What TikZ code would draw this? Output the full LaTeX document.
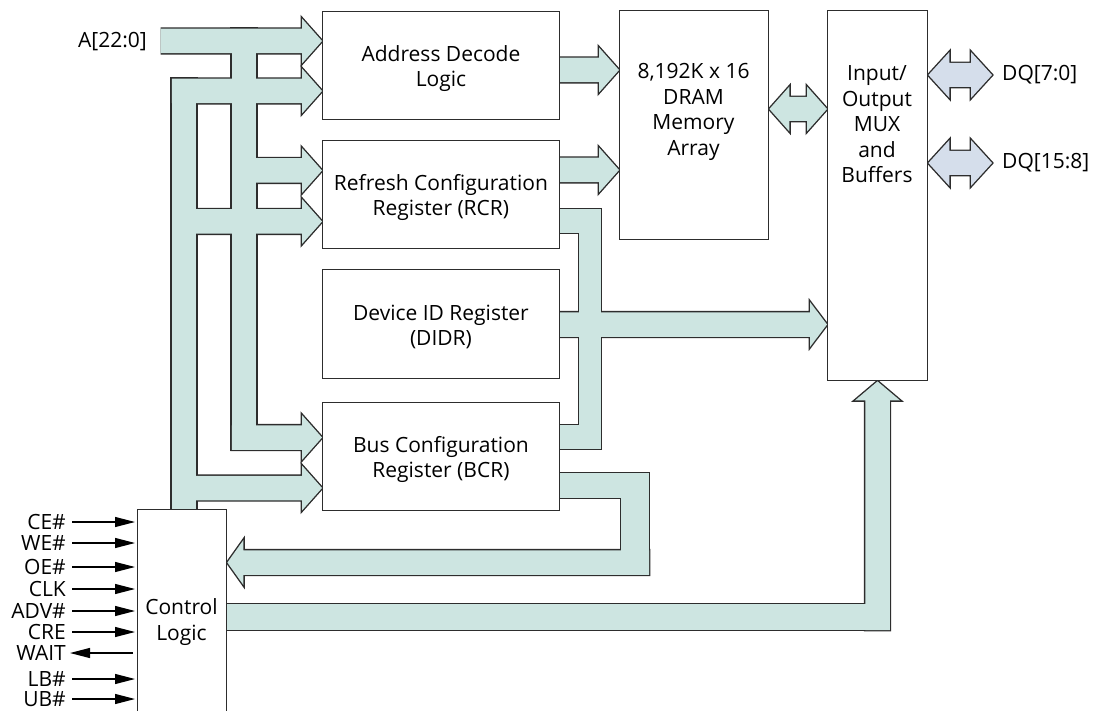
\documentclass[tikz,border=0pt]{standalone}
\usepackage{fontspec}
\setmainfont{Open Sans}
\usetikzlibrary{calc,arrows.meta}
\pgfdeclarelayer{bg}
\pgfsetlayers{bg,main}
\definecolor{busfill}{RGB}{205,229,225}
\definecolor{dqfill}{RGB}{213,222,235}
\definecolor{edgec}{RGB}{45,45,45}
\def\bsw{12.25}
\def\bhw{22.5}
% right-pointing bus arrow: start x, centre y, target anchor, head length
\newcommand\rarrow[4]{(#1,#2-\bsw) -- ($(#3 |- 0,#2)+(-#4,-\bsw)$) -- ($(#3 |- 0,#2)+(-#4,-\bhw)$) -- (#3 |- 0,#2) -- ($(#3 |- 0,#2)+(-#4,\bhw)$) -- ($(#3 |- 0,#2)+(-#4,\bsw)$) -- (#1,#2+\bsw) -- cycle}
% left-pointing bus arrow
\newcommand\larrow[4]{(#1,#2-\bsw) -- ($(#3 |- 0,#2)+(#4,-\bsw)$) -- ($(#3 |- 0,#2)+(#4,-\bhw)$) -- (#3 |- 0,#2) -- ($(#3 |- 0,#2)+(#4,\bhw)$) -- ($(#3 |- 0,#2)+(#4,\bsw)$) -- (#1,#2+\bsw) -- cycle}
% up-pointing bus arrow: bottom y, centre x, target anchor, head length
\newcommand\uarrow[4]{(#2-\bsw,#1) -- ($(#3 -| #2,0)+(-\bsw,#4)$) -- ($(#3 -| #2,0)+(-\bhw,#4)$) -- (#3 -| #2,0) -- ($(#3 -| #2,0)+(\bhw,#4)$) -- ($(#3 -| #2,0)+(\bsw,#4)$) -- (#2+\bsw,#1) -- cycle}
% double arrow: left anchor, right anchor, y, head length, shaft half, head half
\newcommand\darrow[6]{(#1 |- 0,#3) -- ($(#1 |- 0,#3)+(#4,-#6)$) -- ($(#1 |- 0,#3)+(#4,-#5)$) -- ($(#2 |- 0,#3)+(-#4,-#5)$) -- ($(#2 |- 0,#3)+(-#4,-#6)$) -- (#2 |- 0,#3) -- ($(#2 |- 0,#3)+(-#4,#6)$) -- ($(#2 |- 0,#3)+(-#4,#5)$) -- ($(#1 |- 0,#3)+(#4,#5)$) -- ($(#1 |- 0,#3)+(#4,#6)$) -- cycle}
\newcommand\busshapes[2]{%
  \path[#1] \rarrow{#2}{41}{adl.west}{20};
  \path[#1] (231.75,28.75) rectangle (256.25,449.75);
  \path[#1] \rarrow{244}{170.5}{rcr.west}{20};
  \path[#1] \rarrow{231.75}{437.5}{bcr.west}{20};
  \path[#1] (171.75,78.75) rectangle (196.25,520);
  \path[#1] \rarrow{171.75}{91}{adl.west}{20};
  \path[#1] \rarrow{184}{221.5}{rcr.west}{20};
  \path[#1] \rarrow{184}{488}{bcr.west}{20};
  \path[#1] \rarrow{550}{70}{dram.west}{20};
  \path[#1] \rarrow{550}{170}{dram.west}{20};
  \path[#1] \darrow{dram.east}{io.west}{109}{20}{12}{22.5};
  \path[#1] (550,209) rectangle (600.5,233);
  \path[#1] (579,209) rectangle (600.5,449);
  \path[#1] \rarrow{550}{324.5}{io.west}{17};
  \path[#1] (550,425) rectangle (600.5,449);
  \path[#1] (550,473) rectangle (649,498);
  \path[#1] (621,473) rectangle (649,574.75);
  \path[#1] \larrow{649}{562.5}{cl.east}{16};
  \path[#1] (220,604) rectangle (889.75,630);
  \path[#1] \uarrow{630}{877.5}{io.south}{19};
}
\newcommand\dqshapes[1]{%
  \path[#1] \darrow{io.east}{dqtipa}{75}{21}{12}{23};
  \path[#1] \darrow{io.east}{dqtipb}{163}{21}{12}{23};
}
\begin{document}
\begin{tikzpicture}[x=1pt,y=-1pt,
  box/.style={draw=edgec,line width=1.4pt,fill=white,inner sep=0pt,anchor=north west},
  txt/.style={inner sep=0pt,align=center,font=\fontsize{21}{25.5}\selectfont},
  siglbl/.style={inner sep=0pt,anchor=east,text height=15pt,text depth=0pt,font=\fontsize{21}{25}\selectfont},
  sig/.style={draw=black,line width=1.2pt,-{Triangle[length=20pt,width=10pt]}}]
\useasboundingbox (0,0) rectangle (1107,711);
% blocks
\node[box,minimum width=236.5pt,minimum height=108pt] (adl) at (322,11) {};
\node[box,minimum width=236.5pt,minimum height=108pt] (rcr) at (322,140) {};
\node[box,minimum width=236.5pt,minimum height=109pt] (didr) at (322,269) {};
\node[box,minimum width=236.5pt,minimum height=108pt] (bcr) at (322,402) {};
\node[box,minimum width=149pt,minimum height=229pt] (dram) at (619,10) {};
\node[box,minimum width=100pt,minimum height=370pt] (io) at (827,10) {};
\node[box,minimum width=89pt,minimum height=230pt] (cl) at (137,509) {};
% block texts
\node[txt] (adltxt) at ($(adl.center)+(0,3)$) {Address Decode\\Logic};
\node[txt] (rcrtxt) at ($(rcr.center)+(0,3)$) {Refresh Configuration\\Register (RCR)};
\node[txt] (didrtxt) at ($(didr.center)+(0,3)$) {Device ID Register\\(DIDR)};
\node[txt] (bcrtxt) at ($(bcr.center)+(0,3)$) {Bus Configuration\\Register (BCR)};
\node[txt] (dramtxt) at (693.5,112) {8,192K x 16\\DRAM\\Memory\\Array};
\node[txt] (iotxt) at (877,124.5) {Input/\\Output\\MUX\\and\\Buffers};
\node[txt] (cltxt) at (181.5,622) {Control\\Logic};
% labels
\node[txt,anchor=east] (addr) at (147,42) {A[22:0]};
\node[txt,anchor=west] (dqa) at (1002,75) {DQ[7:0]};
\node[txt,anchor=west] (dqb) at (1002,163) {DQ[15:8]};
\coordinate (dqtipa) at (992,75);
\coordinate (dqtipb) at (992,163);
% buses
\begin{pgfonlayer}{bg}
  \busshapes{draw=edgec,line width=2.8pt}{162}
  \busshapes{fill=busfill}{160.5}
  \dqshapes{draw=edgec,line width=2.8pt}
  \dqshapes{fill=dqfill}
\end{pgfonlayer}
% control signals
\node[siglbl] (ce) at (66,522) {CE\#};
\node[siglbl] (we) at (66,543) {WE\#};
\node[siglbl] (oe) at (66,567) {OE\#};
\node[siglbl] (clk) at (66,589) {CLK};
\node[siglbl] (adv) at (66,611) {ADV\#};
\node[siglbl] (cre) at (66,632) {CRE};
\node[siglbl] (wait) at (66,653) {WAIT};
\node[siglbl] (lb) at (66,679) {LB\#};
\node[siglbl] (ub) at (66,699) {UB\#};
\draw[sig] ([xshift=6pt]ce.east) -- ($(ce.east -| cl.west)+(-2,0)$);
\draw[sig] ([xshift=6pt]we.east) -- ($(we.east -| cl.west)+(-2,0)$);
\draw[sig] ([xshift=6pt]oe.east) -- ($(oe.east -| cl.west)+(-2,0)$);
\draw[sig] ([xshift=6pt]clk.east) -- ($(clk.east -| cl.west)+(-2,0)$);
\draw[sig] ([xshift=6pt]adv.east) -- ($(adv.east -| cl.west)+(-2,0)$);
\draw[sig] ([xshift=6pt]cre.east) -- ($(cre.east -| cl.west)+(-2,0)$);
\draw[sig] ($(wait.east -| cl.west)+(-4,0)$) -- ([xshift=4pt]wait.east);
\draw[sig] ([xshift=6pt]lb.east) -- ($(lb.east -| cl.west)+(-2,0)$);
\draw[sig] ([xshift=6pt]ub.east) -- ($(ub.east -| cl.west)+(-2,0)$);
\end{tikzpicture}
\end{document}
